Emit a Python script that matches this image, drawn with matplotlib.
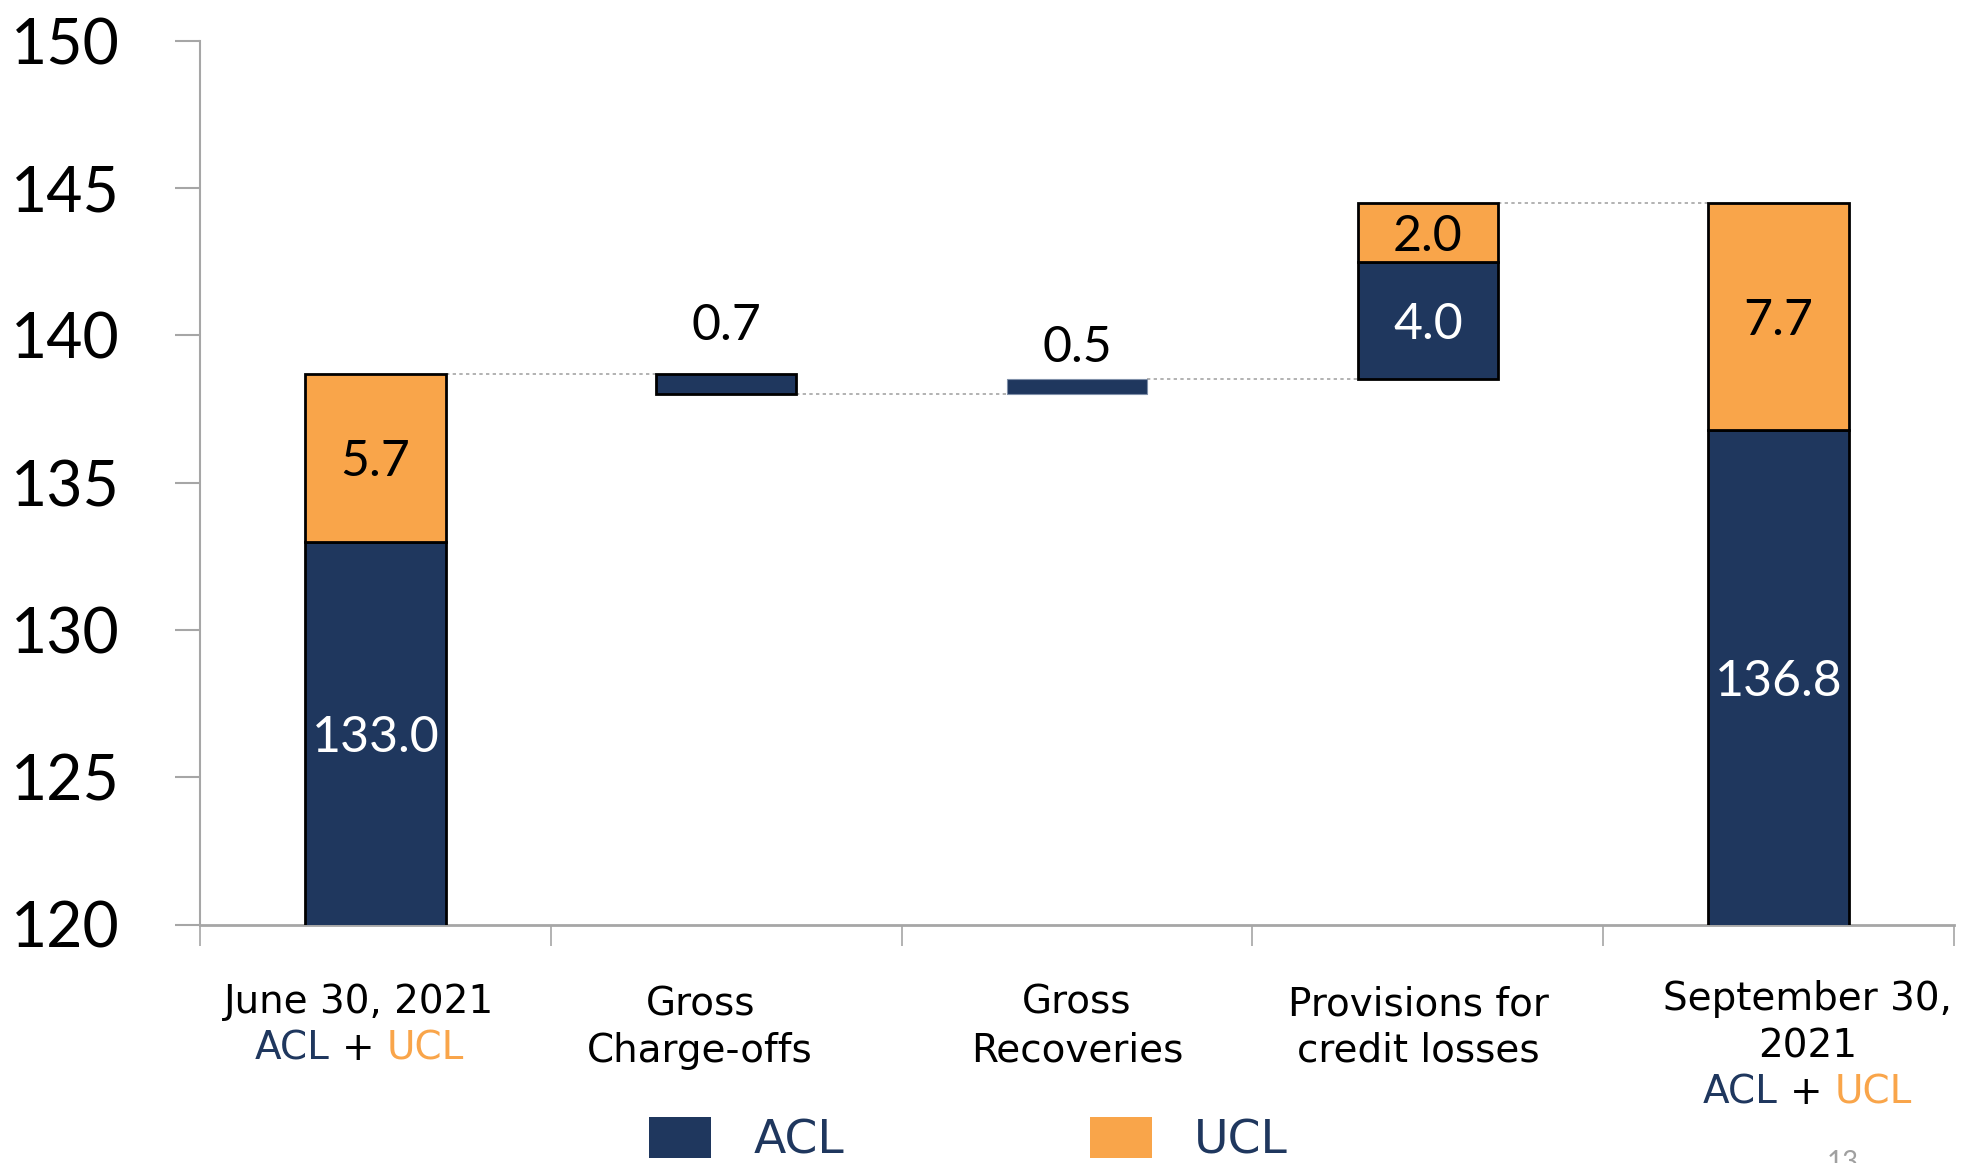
import matplotlib
matplotlib.use('Agg')
import matplotlib.pyplot as plt
from matplotlib.patches import Patch
from matplotlib.transforms import IdentityTransform

# data
categories = ['June 30, 2021', 'Gross\nCharge-offs', 'Gross\nRecoveries',
              'Provisions for\ncredit losses', 'September 30,\n2021']
acl_values = [133.0, 0.7, 0.5, 4.0, 136.8]
ucl_values = [5.7, 0.0, 0.0, 2.0, 7.7]
step_sign = [0, -1, 1, 1, 0]   # 0 = total bar, -1 = decrease, 1 = increase
yticks = [120, 125, 130, 135, 140, 145, 150]

NAVY = '#1F375E'
ORANGE = '#F9A54A'
GREY = '#A6A6A6'
W, H = 1961, 1163
YMIN, YMAX = 120, 150

plt.rcParams['font.family'] = ['Lato', 'DejaVu Sans']

fig = plt.figure(figsize=(W / 100, H / 100), dpi=100)
ax = fig.add_axes([200 / W, 1 - 924.5 / H, 1754 / W, (924.5 - 40.7) / H])

# waterfall positions
acl_bottom, ucl_bottom, levels = [], [], []
level = 0.0
for a, u, s in zip(acl_values, ucl_values, step_sign):
    if s == 0:
        b = 0.0
        level = a + u
    elif s < 0:
        b = level - a - u
        level = b
    else:
        b = level
        level = b + a + u
    acl_bottom.append(b)
    ucl_bottom.append(b + a)
    levels.append(level)

x = list(range(len(categories)))
bw = 0.4
edges = ['black' if s != 1 or u > 0 else '#7F8FA8' for s, u in zip(step_sign, ucl_values)]
lws = [2 if e == 'black' else 0.8 for e in edges]
ax.bar(x, acl_values, bw, bottom=acl_bottom, color=NAVY, edgecolor=edges, linewidth=lws, zorder=3)
ux = [i for i in x if ucl_values[i] > 0]
ax.bar(ux, [ucl_values[i] for i in ux], bw, bottom=[ucl_bottom[i] for i in ux],
       color=ORANGE, edgecolor='black', linewidth=2, zorder=3)

# connectors
for i in range(len(x) - 1):
    ax.plot([i + bw / 2, i + 1 - bw / 2], [levels[i], levels[i]], color=GREY,
            lw=1.2, ls=(0, (2, 2)), zorder=1)

# value labels
above_pad = {1: 34, 2: 23}
for i in x:
    a, u = acl_values[i], ucl_values[i]
    if u > 0:
        ax.text(i, ucl_bottom[i] + u / 2, f'{u:.1f}', ha='center', va='center_baseline',
                fontsize=36, color='black', zorder=4)
    if a >= 2:
        # centre of the visible part of the bar
        yc = (max(acl_bottom[i], YMIN) + acl_bottom[i] + a) / 2
        ax.text(i, yc, f'{a:.1f}', ha='center', va='center_baseline',
                fontsize=36, color='white', zorder=4)
    else:
        ax.annotate(f'{a:.1f}', (i, acl_bottom[i] + a), xytext=(0, above_pad.get(i, 25)),
                    textcoords='offset points', ha='center', va='center',
                    fontsize=36, color='black')

# axes styling
ax.set_xlim(-0.5, 4.5)
ax.set_ylim(YMIN, YMAX)
ax.set_yticks(yticks)
ax.set_xticks([i - 0.5 for i in range(len(x) + 1)])
ax.set_xticklabels([])
ax.tick_params(axis='x', length=15, width=1.2, color=GREY)
ax.tick_params(axis='y', length=18, width=1.5, color=GREY, pad=40, labelsize=45)
for side in ['top', 'right']:
    ax.spines[side].set_visible(False)
ax.spines['left'].set_color(GREY)
ax.spines['left'].set_linewidth(1.5)
ax.spines['bottom'].set_color(GREY)
ax.spines['bottom'].set_linewidth(2)

# category labels
renderer = fig.canvas.get_renderer()
label_font = dict(family='DejaVu Sans', fontsize=28)
label_shift = [-16, -26, 0, -9, 29]
first_base = [1013, 1015, 1014, 1015, 1010]


def width_of(s):
    t = fig.text(0, 0, s, **label_font)
    w = t.get_window_extent(renderer).width
    t.remove()
    return w


for i, cat in enumerate(categories):
    xc = ax.transData.transform((i, 0))[0] + label_shift[i]
    lines = cat.split('\n')
    for j, line in enumerate(lines):
        fig.text(xc, H - (first_base[i] + 47 * j), line, transform=IdentityTransform(),
                 ha='center', va='baseline', color='black', **label_font)
    if step_sign[i] == 0:
        yb = H - (first_base[i] + 47 * len(lines))
        full = width_of('ACL + UCL')
        left, right = xc - full / 2, xc + full / 2
        wa, wu = width_of('ACL'), width_of('UCL')
        fig.text(left, yb, 'ACL', transform=IdentityTransform(), ha='left',
                 va='baseline', color=NAVY, **label_font)
        fig.text((left + wa + right - wu) / 2, yb, '+', transform=IdentityTransform(),
                 ha='center', va='baseline', color='black', **label_font)
        fig.text(right, yb, 'UCL', transform=IdentityTransform(), ha='right',
                 va='baseline', color=ORANGE, **label_font)

# legend
fig.legend(handles=[Patch(facecolor=NAVY, label='ACL'), Patch(facecolor=ORANGE, label='UCL')],
           loc='upper left', bbox_to_anchor=(649 / W, 1 - 1117 / H), ncol=2, frameon=False,
           prop={'family': 'DejaVu Sans', 'size': 34}, labelcolor=NAVY,
           handlelength=1.31, handleheight=0.97, handletextpad=0.9, columnspacing=5.2,
           borderpad=0, borderaxespad=0)

# page number, cut off at the bottom edge
fig.text(1843 / W, 1 - 1150 / H, '13', ha='center', va='top', fontsize=20, color='#A0A0A0')

plt.savefig('out.png', dpi=100)
